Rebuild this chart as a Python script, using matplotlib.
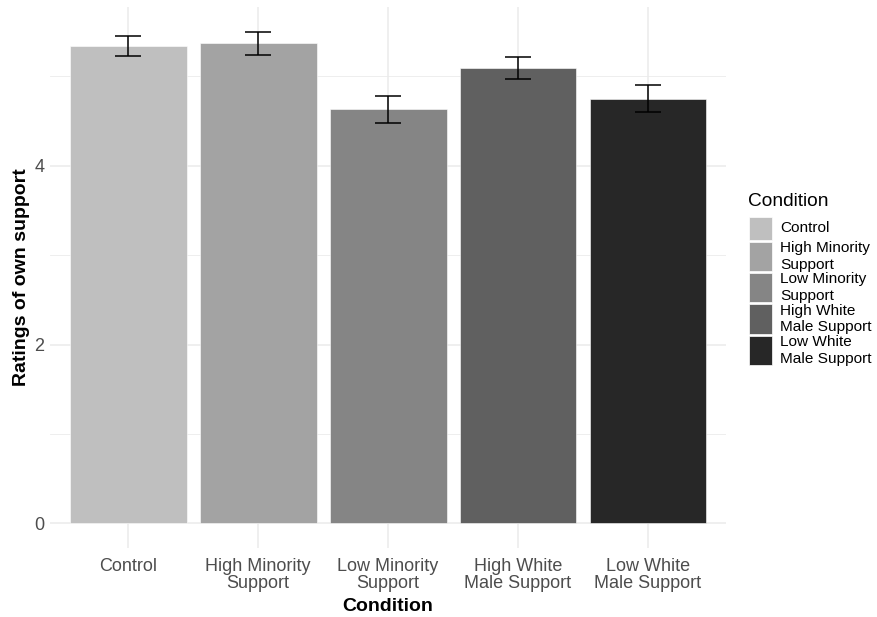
import matplotlib
matplotlib.use("Agg")
import matplotlib.pyplot as plt
import numpy as np
from matplotlib.patches import Rectangle

plt.rcParams['font.family'] = ['Liberation Sans', 'DejaVu Sans']

# mean ratings per condition with their error margins
conditions = ['Control', 'High Minority\nSupport', 'Low Minority\nSupport',
              'High White\nMale Support', 'Low White\nMale Support']
means = [5.34, 5.37, 4.63, 5.09, 4.75]
errors = [0.115, 0.13, 0.155, 0.125, 0.15]
fills = ['#bfbfbf', '#a3a3a3', '#858585', '#606060', '#272727']

fig = plt.figure(figsize=(8.78, 6.17), dpi=100)
ax = fig.add_axes([50/878, 69/617, 676/878, 541/617])

x = np.arange(1, len(conditions) + 1)
ax.bar(x, means, width=0.9, color=fills, edgecolor='white', linewidth=0.4, zorder=2)
ax.errorbar(x, means, yerr=errors, fmt='none', ecolor='black', elinewidth=1.1,
            capsize=9.4, capthick=1.1, zorder=3)

ax.set_xlim(0.4, 5.6)
top = max(m + e for m, e in zip(means, errors))
ax.set_ylim(-0.05*top, top*1.05)
ax.set_xticks(x)
ax.set_xticklabels(conditions, fontsize=13, color='#4d4d4d', linespacing=1.05)
ax.set_yticks([0, 2, 4])
ax.set_yticks([1, 3, 5], minor=True)
ax.tick_params(axis='both', which='both', length=0, labelsize=13, labelcolor='#4d4d4d')
ax.tick_params(axis='x', pad=7)
ax.tick_params(axis='y', pad=4)
ax.grid(True, which='major', color='#ebebeb', linewidth=1.1, zorder=0)
ax.grid(True, which='minor', axis='y', color='#ebebeb', linewidth=0.6, zorder=0)
ax.set_axisbelow(True)
for s in ax.spines.values():
    s.set_visible(False)

ax.set_xlabel('Condition', fontsize=14, fontweight='bold', labelpad=4)
ax.set_ylabel('Ratings of own support', fontsize=14, fontweight='bold', labelpad=3)

# legend drawn by hand so the two-line labels sit tight like ggplot's
fig.text(748/878, 1 - 201/617, 'Condition', fontsize=13.8, va='center', ha='left')
key_tops = [217, 242, 273, 304, 336]
key_bottoms = [240, 271, 302, 334, 365]
for lab, col, t, b in zip(conditions, fills, key_tops, key_bottoms):
    fig.patches.append(Rectangle((749/878, 1 - b/617), 23/878, (b - t)/617,
                                 transform=fig.transFigure, facecolor=col,
                                 edgecolor='white', linewidth=0.5))
    fig.text(780/878, 1 - (t + b)/2/617, lab, fontsize=11.1, va='center', ha='left',
             linespacing=1.2)

fig.savefig('out.png', dpi=100, facecolor='white')
